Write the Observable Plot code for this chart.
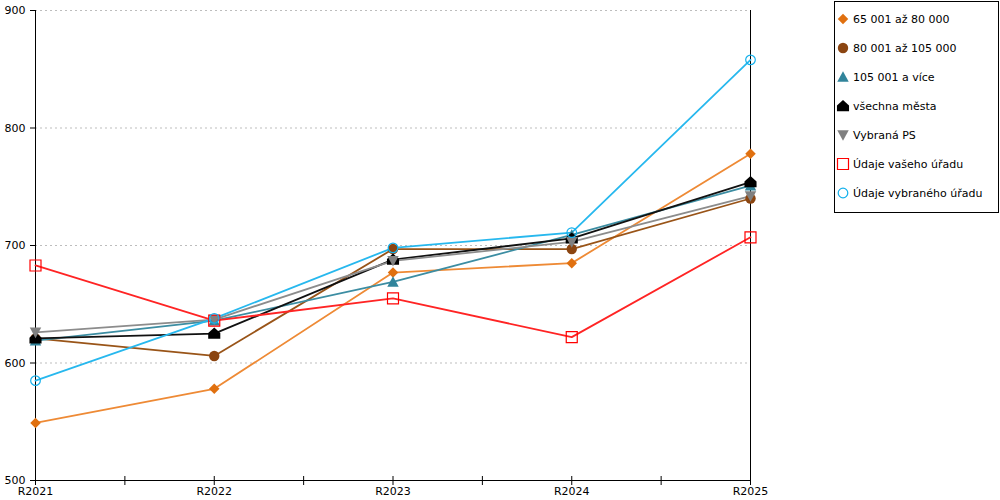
<!DOCTYPE html>
<html>
<head>
<meta charset="utf-8">
<script src="https://cdn.jsdelivr.net/npm/d3@7"></script>
<script src="https://cdn.jsdelivr.net/npm/@observablehq/plot@0.6"></script>
<style>
  body { margin: 0; background: #fff; font-family: "DejaVu Sans", Verdana, sans-serif; }
  #wrap { position: relative; width: 1000px; height: 500px; }
  #legend { position: absolute; left: 834px; top: 1px; width: 163px; height: 210px; border: 1px solid #000; background: #fff; }
  .row { position: absolute; left: 0; height: 16px; display: flex; align-items: center; font-size: 11px; color: #000; white-space: nowrap; }
  .row svg { margin-left: 2px; margin-right: 4px; overflow: visible; }
</style>
</head>
<body>
<div id="wrap"><div id="legend"></div></div>
<script>
const categories = ["R2021", "R2022", "R2023", "R2024", "R2025"];
const seriesNames = ["65 001 až 80 000", "80 001 až 105 000", "105 001 a více", "všechna města", "Vybraná PS", "Údaje vašeho úřadu", "Údaje vybraného úřadu"];
const s65 = [549, 578, 677, 685, 778];
const s80 = [621, 606, 697, 697, 740];
const s105 = [619, 636, 669, 709, 751];
const sAll = [621, 625, 688, 706, 754];
const sPS = [626, 637, 687, 703, 742];
const sVas = [683, 636, 655, 622, 707];
const sVyb = [585, 638, 698, 711, 858];
const yTicks = [500, 600, 700, 800, 900];
const gridTicks = [600, 700, 800, 900];
const xTicks = [0, 0.5, 1, 1.5, 2, 2.5, 3, 3.5, 4];

const seriesValues = [s65, s80, s105, sAll, sPS, sVas, sVyb];
const markerColors = ["#E0700F", "#8B4511", "#31849B", "#000000", "#808080", "#FF0000", "#12B0EC"];
const lineColors = ["#EE8A35", "#995418", "#3C8DA2", "#111111", "#8C8C8C", "#FF2424", "#27B8EE"];

// custom symbols
const rad = s => Math.sqrt(s / Math.PI);
const symDiamond = { draw(c, s) { const r = rad(s) * 1.05; c.moveTo(0, -r); c.lineTo(r, 0); c.lineTo(0, r); c.lineTo(-r, 0); c.closePath(); } };
const symCircle = { draw(c, s) { const r = rad(s); c.moveTo(r, 0); c.arc(0, 0, r, 0, 2 * Math.PI); c.closePath(); } };
const symTriUp = { draw(c, s) { const r = rad(s) * 1.1; c.moveTo(0, -r); c.lineTo(r, r * 0.85); c.lineTo(-r, r * 0.85); c.closePath(); } };
const symHouse = { draw(c, s) { const r = rad(s) * 1.1; c.moveTo(0, -r); c.lineTo(r, -r * 0.1); c.lineTo(r, r * 0.85); c.lineTo(-r, r * 0.85); c.lineTo(-r, -r * 0.1); c.closePath(); } };
const symTriDown = { draw(c, s) { const r = rad(s) * 1.1; c.moveTo(0, r); c.lineTo(r, -r * 0.85); c.lineTo(-r, -r * 0.85); c.closePath(); } };
const symSquare = { draw(c, s) { const r = rad(s); c.moveTo(-r, -r); c.lineTo(r, -r); c.lineTo(r, r); c.lineTo(-r, r); c.closePath(); } };
const symbols = [symDiamond, symCircle, symTriUp, symHouse, symTriDown, symSquare, symCircle];
const hollow = [false, false, false, false, false, true, true];
const radii = [5, 5.2, 5.2, 5.5, 5.2, 5.5, 4.8];

const data = [];
seriesNames.forEach((name, si) => {
  seriesValues[si].forEach((v, i) => data.push({ series: name, si, i, cat: categories[i], value: v }));
});

const marks = [
  Plot.ruleY(gridTicks, { stroke: "#bdbdbd", strokeDasharray: "2,3", strokeWidth: 1 }),
  Plot.ruleY([500], { stroke: "#000", strokeWidth: 1 }),
  Plot.ruleX([0, 4], { stroke: "#000", strokeWidth: 1 }),
  Plot.ruleX(xTicks, { x: d => d, y1: 500, y2: 500, insetTop: -4, insetBottom: -5, stroke: "#000" }),
  Plot.axisY({ ticks: yTicks, tickSize: 5, tickPadding: 5, fontSize: 11, label: null, tickFormat: d => String(d) }),
  Plot.axisX({ ticks: [0, 1, 2, 3, 4], tickSize: 0, tickPadding: 7, fontSize: 11, label: null, tickFormat: d => categories[d] })
];
seriesNames.forEach((name, si) => {
  const sub = data.filter(d => d.si === si);
  marks.push(Plot.line(sub, { x: "i", y: "value", stroke: lineColors[si], strokeWidth: 1.8 }));
});
seriesNames.forEach((name, si) => {
  const sub = data.filter(d => d.si === si);
  marks.push(Plot.dot(sub, {
    x: "i", y: "value", r: radii[si], symbol: symbols[si],
    fill: hollow[si] ? "none" : markerColors[si],
    stroke: hollow[si] ? markerColors[si] : "none",
    strokeWidth: hollow[si] ? 1.2 : 0
  }));
});

const chart = Plot.plot({
  width: 1000,
  height: 500,
  marginLeft: 35,
  marginRight: 250,
  marginTop: 10,
  marginBottom: 20,
  style: { fontFamily: "DejaVu Sans, Verdana, sans-serif", fontSize: "11px", color: "#000", background: "#fff" },
  x: { type: "linear", domain: [0, 4], axis: null },
  y: { domain: [500, 900], axis: null },
  marks
});
document.getElementById("wrap").prepend(chart);

// legend
const legend = document.getElementById("legend");
const rowCenters = [19, 48, 77, 106, 135, 164, 193];
seriesNames.forEach((name, si) => {
  const row = document.createElement("div");
  row.className = "row";
  row.style.top = (rowCenters[si] - 8 - 2) + "px";
  const r = radii[si];
  const path = d3.symbol(symbols[si], r * r * Math.PI)();
  const fill = hollow[si] ? "none" : markerColors[si];
  const stroke = hollow[si] ? markerColors[si] : "none";
  row.innerHTML = `<svg width="12" height="14" viewBox="-6 -7 12 14"><path d="${path}" fill="${fill}" stroke="${stroke}" stroke-width="1.2"></path></svg><span>${name}</span>`;
  legend.appendChild(row);
});
</script>
</body>
</html>
